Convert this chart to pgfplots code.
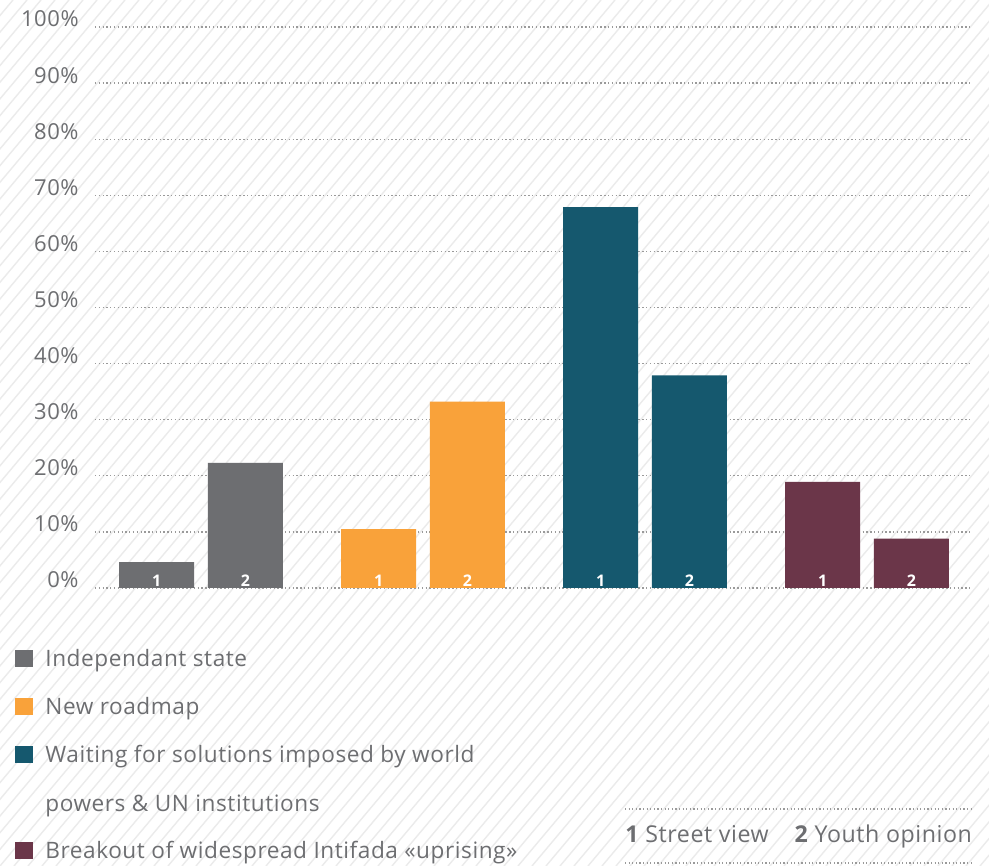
\documentclass[border=0pt]{standalone}
\usepackage{pgfplots}
\pgfplotsset{compat=1.18}
\usepackage{fontspec}
\setmainfont{Open Sans}[LetterSpace=2.5]
\definecolor{cgray}{HTML}{6D6E71}
\definecolor{corange}{HTML}{F9A23A}
\definecolor{cteal}{HTML}{15586E}
\definecolor{cmaroon}{HTML}{6B3649}
\definecolor{ctext}{HTML}{6D6E71}
\definecolor{cgrid}{HTML}{9A9A9A}
\definecolor{chatch}{HTML}{EBEBEB}
\tikzset{numlab/.style={anchor=base, inner sep=0pt, text=white, font=\bfseries\fontsize{8}{9}\selectfont}}
\begin{document}
\begin{tikzpicture}[x=0.5pt,y=0.5pt]
% background
\begin{scope}
\clip (0,0) rectangle (989,866);
\fill[white] (0,0) rectangle (989,866);
\foreach \i in {-60,...,75} {
  \draw[chatch, line width=0.7pt] (\i*14,0) -- ++(727,866);
}
\end{scope}
\begin{axis}[
  at={(47.5pt,139pt)}, anchor=south west,
  scale only axis, width=438.5pt, height=280.5pt,
  xmin=-0.4775, xmax=3.473, ymin=0, ymax=100,
  axis line style={draw=none}, tick style={draw=none},
  xtick=\empty, ytick={0,10,...,100},
  ymajorgrids, grid style={cgrid, line width=0.65pt, dash pattern=on 0.65pt off 1.25pt},
  yticklabel={\pgfmathprintnumber{\tick}\%},
  yticklabel style={anchor=base east, inner sep=0pt, xshift=-8pt, font=\fontsize{11}{12}\selectfont, text=ctext},
  /pgf/number format/assume math mode=true,
  ybar, bar width=0.3378, bar shift=0pt,
  clip=false,
]
\addplot[fill=cgray, draw=none] coordinates {(-0.2,4.6) (0.2,22.3)};
\addplot[fill=corange, draw=none] coordinates {(0.8,10.5) (1.2,33.2)};
\addplot[fill=cteal, draw=none] coordinates {(1.8,67.9) (2.2,37.9)};
\addplot[fill=cmaroon, draw=none] coordinates {(2.8,18.9) (3.2,8.8)};
\node[numlab] at (axis cs:-0.2,0.2) {1};
\node[numlab] at (axis cs:0.2,0.2) {2};
\node[numlab] at (axis cs:0.8,0.2) {1};
\node[numlab] at (axis cs:1.2,0.2) {2};
\node[numlab] at (axis cs:1.8,0.2) {1};
\node[numlab] at (axis cs:2.2,0.2) {2};
\node[numlab] at (axis cs:2.8,0.2) {1};
\node[numlab] at (axis cs:3.2,0.2) {2};
\end{axis}
% legend
\begin{scope}[every node/.style={anchor=base west, inner sep=0pt, text=ctext, font=\fontsize{11.3}{13}\selectfont}]
\fill[cgray] (15,199) rectangle (33,216);
\node at (45,199) {Independant state};
\fill[corange] (15,151) rectangle (33,168);
\node at (45,151) {New roadmap};
\fill[cteal] (15,103) rectangle (33,120);
\node at (45,103) {Waiting for solutions imposed by world};
\node at (45,54) {powers \& UN institutions};
\fill[cmaroon] (15,7) rectangle (33,24);
\node at (45,7) {Breakout of widespread Intifada «uprising»};
\draw[cgrid, line width=0.6pt, dash pattern=on 0.6pt off 1.2pt] (625,57) -- (973,57);
\draw[cgrid, line width=0.6pt, dash pattern=on 0.6pt off 1.2pt] (625,3) -- (973,3);
\node[font=\fontsize{11.6}{13}\selectfont] at (625,23) {{\bfseries 1} Street view\hspace{13pt}{\bfseries 2} Youth opinion};
\end{scope}
\end{tikzpicture}
\end{document}
